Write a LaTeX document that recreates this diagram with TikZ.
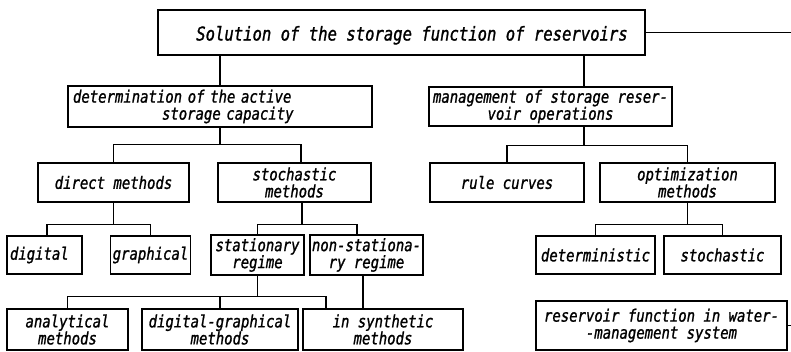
\documentclass[tikz,border=0pt]{standalone}
\usepackage{fontspec}
\newfontfamily\lett{DejaVu Sans Mono Oblique}[FakeStretch=0.82,FakeBold=1.2]
\begin{document}
\begin{tikzpicture}[x=1pt,y=-1pt,
  box/.style={draw,line width=1.3pt,inner sep=2pt,align=center,
    font=\lett\fontsize{17}{17}\selectfont},
  wire/.style={line width=1.3pt}]
\useasboundingbox (0,0) rectangle (791,351);
% boxes
\node[box,minimum width=487pt,minimum height=45pt,font=\lett\fontsize{19}{19}\selectfont] (top) at (401.5,32.5) {\hspace*{21pt}\raisebox{-3pt}[14pt][4pt]{Solution of the storage function of reservoirs}};
\node[box,minimum width=304pt,minimum height=41pt,text width=294pt,align=left] (det) at (220,106.5) {determination of the active\\\hspace*{89pt}storage capacity};
\node[box,minimum width=243pt,minimum height=39pt] (mgmt) at (550.5,106.5) {management of storage reser-\\voir operations};
\node[box,minimum width=151pt,minimum height=39pt] (direct) at (113.5,182.5) {direct methods};
\node[box,minimum width=153pt,minimum height=39pt] (stoch) at (294.5,182.5) {stochastic\\methods};
\node[box,minimum width=154pt,minimum height=39pt] (rule) at (507,182.5) {rule curves};
\node[box,minimum width=175pt,minimum height=39pt] (optim) at (687.5,182.5) {optimization\\methods};
\node[box,minimum width=75pt,minimum height=38pt,text width=69pt,align=left] (digital) at (44.5,255) {digital};
\node[box,minimum width=75pt,minimum height=38pt] (graphical) at (150.5,255) {graphical};
\node[box,minimum width=93pt,minimum height=40pt] (stationary) at (257.5,255) {stationary\\regime};
\node[box,minimum width=111pt,minimum height=40pt] (nonstat) at (366.5,255) {non-stationa-\\ry regime};
\node[box,minimum width=119pt,minimum height=38pt] (determ) at (595.5,255) {deterministic};
\node[box,minimum width=117pt,minimum height=38pt] (stochB) at (722.5,255) {stochastic};
\node[box,minimum width=121pt,minimum height=41pt] (analytical) at (67.5,329.5) {analytical\\methods};
\node[box,minimum width=156pt,minimum height=41pt] (diggraph) at (220,329.5) {digital-graphical\\methods};
\node[box,minimum width=160pt,minimum height=41pt] (synthetic) at (383,329.5) {in synthetic\\methods};
\node[box,minimum width=251pt,minimum height=49pt] (reservoir) at (661.5,325.5) {reservoir function in water-\\-management system};
% helper coordinates
\coordinate (mgmtIn) at ([xshift=33.5pt]mgmt.north);
\coordinate (mgmtOut) at ([xshift=33.5pt]mgmt.south);
\coordinate (stochIn) at ([xshift=6.5pt]stoch.north);
\coordinate (stochOut) at ([xshift=7.5pt]stoch.south);
\coordinate (digIn) at ([xshift=2.5pt]digital.north);
\coordinate (nsIn) at ([xshift=-9.5pt]nonstat.north);
\coordinate (nsOut) at ([xshift=-3.5pt]nonstat.south);
\coordinate (synIn) at ([xshift=-57pt]synthetic.north);
\coordinate (edgeTop) at (791,32.5);
\coordinate (edgeRes) at (791,325.5);
% connectors
\draw[wire] (top.south -| det.north) -- (det.north);
\draw[wire] (mgmtIn |- top.south) -- (mgmtIn);
\draw[wire] (top.east) -- (edgeTop);
\draw[wire] (reservoir.east) -- (edgeRes);
\draw[wire] (det.south) -- ++(0,17) coordinate (jDet);
\draw[wire] (direct.north) |- (jDet) -| (stochIn);
\draw[wire] (mgmtOut) -- ++(0,19) coordinate (jMg);
\draw[wire] (rule.north) |- (jMg) -| (optim.north);
\draw[wire] (direct.south) -- ++(0,22) coordinate (jDir);
\draw[wire] (digIn) |- (jDir) -| (graphical.north);
\draw[wire] (stochOut) -- ++(0,22) coordinate (jSt);
\draw[wire] (stationary.north) |- (jSt) -| (nsIn);
\draw[wire] (stationary.south) -- ++(0,21) coordinate (jSr);
\draw[wire] (analytical.north) |- (jSr) -| (synIn);
\draw[wire] (diggraph.north) -- (diggraph.north |- jSr);
\draw[wire] (nsOut) -- (nsOut |- synthetic.north);
\draw[wire] (optim.south) -- ++(0,22) coordinate (jOp);
\draw[wire] (determ.north) |- (jOp) -| (stochB.north);
\end{tikzpicture}
\end{document}
